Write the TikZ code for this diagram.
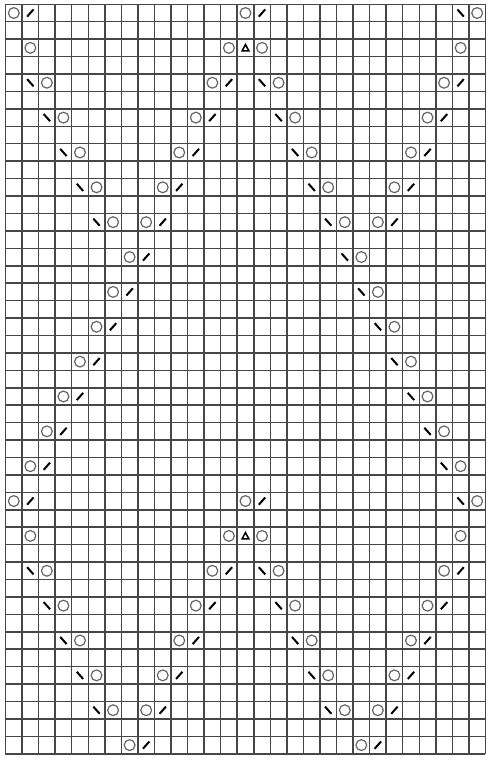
\documentclass[tikz,border=0pt]{standalone}
\begin{document}
\begin{tikzpicture}[x=16.55pt,y=-17.43pt,
  gridline/.style={draw=black!72,line width=1.5pt},
  yarnover/.style={draw=black!60,line width=1.2pt},
  slant/.style={draw=black,line width=2pt},
  tri/.style={draw=black,line width=1.5pt,line join=miter}]
\useasboundingbox[fill=white] (-0.3323,-0.2467) rectangle (29.1541,43.356);
% grid
\foreach \i in {0,...,29} \draw[gridline] (\i,0) -- (\i,43);
\foreach \j in {0,...,43} \draw[gridline] (0,\j) -- (29,\j);
% yarn overs (circles)
\foreach \c/\r in {0/0,14/0,28/0,
  1/2,13/2,15/2,27/2,
  2/4,12/4,16/4,26/4,
  3/6,11/6,17/6,25/6,
  4/8,10/8,18/8,24/8,
  5/10,9/10,19/10,23/10,
  6/12,8/12,20/12,22/12,
  7/14,21/14,
  6/16,22/16, 5/18,23/18, 4/20,24/20, 3/22,25/22, 2/24,26/24, 1/26,27/26,
  0/28,14/28,28/28,
  1/30,13/30,15/30,27/30,
  2/32,12/32,16/32,26/32,
  3/34,11/34,17/34,25/34,
  4/36,10/36,18/36,24/36,
  5/38,9/38,19/38,23/38,
  6/40,8/40,20/40,22/40,
  7/42,21/42}
  \draw[yarnover] (\c+0.5,\r+0.5) circle[radius=5.4pt];
% right-leaning decreases
\foreach \c/\r in {1/0,15/0,
  13/4,27/4, 12/6,26/6, 11/8,25/8, 10/10,24/10, 9/12,23/12,
  8/14, 7/16, 6/18, 5/20, 4/22, 3/24, 2/26,
  1/28,15/28,
  13/32,27/32, 12/34,26/34, 11/36,25/36, 10/38,24/38, 9/40,23/40,
  8/42,22/42}
  \draw[slant,shift={(\c+0.5,\r+0.5)}] (-3.2pt,-3.6pt) -- (3.2pt,3.6pt);
% left-leaning decreases
\foreach \c/\r in {27/0,
  1/4,15/4, 2/6,16/6, 3/8,17/8, 4/10,18/10, 5/12,19/12,
  20/14, 21/16, 22/18, 23/20, 24/22, 25/24, 26/26,
  27/28,
  1/32,15/32, 2/34,16/34, 3/36,17/36, 4/38,18/38, 5/40,19/40}
  \draw[slant,shift={(\c+0.5,\r+0.5)}] (-3.2pt,3.6pt) -- (3.2pt,-3.6pt);
% double decreases (triangles)
\foreach \c/\r in {14/2,14/30}
  \draw[tri,shift={(\c+0.5,\r+0.5)}] (-3.4pt,-3pt) -- (3.4pt,-3pt) -- (0pt,3.4pt) -- cycle;
\end{tikzpicture}
\end{document}
